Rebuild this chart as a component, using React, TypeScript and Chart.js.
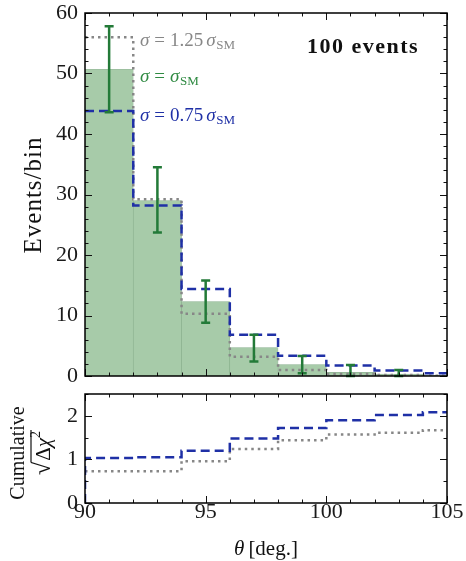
import React, { useEffect, useRef } from 'react';
import { Chart, registerables } from 'chart.js';

Chart.register(...registerables);

// ---------- data ----------
const binEdges = [90, 92, 94, 96, 98, 100, 102, 104, 106];
const binCenters = [91, 93, 95, 97, 99, 101, 103, 105];
const countsSM = [50.7, 29.0, 12.3, 4.7, 1.9, 0.6, 0.3, 0.1];
const counts075 = [43.8, 28.2, 14.4, 6.8, 3.35, 1.75, 0.9, 0.45];
const counts125 = [56.0, 29.2, 10.3, 3.2, 1.0, 0.35, 0.15, 0.05];
const errCenters = [91, 93, 95, 97, 99, 101, 103];
const errLow = [43.6, 23.7, 8.8, 2.4, 0.45, 0.0, 0.0];
const errHigh = [57.8, 34.5, 15.8, 6.8, 3.3, 1.8, 1.0];
const cum075 = [1.03, 1.05, 1.2, 1.48, 1.72, 1.9, 2.02, 2.08];
const cum125 = [0.73, 0.73, 0.96, 1.24, 1.44, 1.57, 1.61, 1.67];
const xTickValues = [90, 95, 100, 105];
const topYTicks = [0, 10, 20, 30, 40, 50, 60];
const bottomYTicks = [0, 1, 2];

// ---------- styles ----------
const FONT = '"Liberation Serif", "DejaVu Serif", serif';
const GREEN_FILL = '#a7cba9';
const GREEN_EDGE = 'rgba(100,150,105,0.7)';
const GREEN_ERR = '#237a38';
const GREEN_TXT = '#2f8a42';
const BLUE = '#1f30a6';
const GRAY = '#878787';

function stepPoints(vals: number[], startZero = false) {
  const pts: { x: number; y: number }[] = [];
  if (startZero) pts.push({ x: binEdges[0], y: 0 });
  binEdges.forEach((e, i) => pts.push({ x: e, y: vals[Math.min(i, vals.length - 1)] }));
  return pts;
}

type Piece = { t: string; f: string; dy?: number; gap?: number };

function richWidth(ctx: CanvasRenderingContext2D, pieces: Piece[]) {
  let w = 0;
  for (const p of pieces) {
    ctx.font = p.f;
    w += ctx.measureText(p.t).width + (p.gap || 0);
  }
  return w;
}

function drawRich(ctx: CanvasRenderingContext2D, x: number, y: number, pieces: Piece[], color: string, align: 'left' | 'center' = 'left') {
  ctx.save();
  ctx.fillStyle = color;
  ctx.textBaseline = 'alphabetic';
  ctx.textAlign = 'left';
  const total = richWidth(ctx, pieces);
  let cx = align === 'center' ? x - total / 2 : x;
  const pos: number[] = [];
  for (const p of pieces) {
    ctx.font = p.f;
    pos.push(cx);
    ctx.fillText(p.t, cx, y + (p.dy || 0));
    cx += ctx.measureText(p.t).width + (p.gap || 0);
  }
  ctx.restore();
  return { start: align === 'center' ? x - total / 2 : x, pos, end: cx };
}

function makeFramePlugin(xMinor: number, xMajor: number, yMinor: number, yMajor: number) {
  return {
    id: 'frameTicks',
    afterDraw(chart: any) {
      const { ctx, chartArea: a } = chart;
      const xs = chart.scales.x;
      const ys = chart.scales.y;
      ctx.save();
      ctx.strokeStyle = '#111';
      ctx.lineWidth = 1;
      const isMajor = (v: number, m: number) => Math.abs(v / m - Math.round(v / m)) < 1e-6;
      ctx.beginPath();
      const nx = Math.round((xs.max - xs.min) / xMinor);
      for (let i = 0; i <= nx; i++) {
        const v = xs.min + i * xMinor;
        const len = isMajor(v, xMajor) ? 7 : 3.5;
        const px = Math.round(xs.getPixelForValue(v)) + 0.5;
        ctx.moveTo(px, a.bottom);
        ctx.lineTo(px, a.bottom - len);
        ctx.moveTo(px, a.top);
        ctx.lineTo(px, a.top + len);
      }
      const ny = Math.round((ys.max - ys.min) / yMinor);
      for (let i = 0; i <= ny; i++) {
        const v = ys.min + i * yMinor;
        const len = isMajor(v, yMajor) ? 7 : 3.5;
        const py = Math.round(ys.getPixelForValue(v)) + 0.5;
        ctx.moveTo(a.left, py);
        ctx.lineTo(a.left + len, py);
        ctx.moveTo(a.right, py);
        ctx.lineTo(a.right - len, py);
      }
      ctx.stroke();
      ctx.lineWidth = 1.5;
      ctx.strokeStyle = '#000';
      ctx.strokeRect(a.left, a.top, a.right - a.left, a.bottom - a.top);
      ctx.restore();
    },
  };
}

const errorBarPlugin = {
  id: 'errorBars',
  afterDatasetsDraw(chart: any) {
    const { ctx } = chart;
    const xs = chart.scales.x;
    const ys = chart.scales.y;
    ctx.save();
    ctx.strokeStyle = GREEN_ERR;
    ctx.lineWidth = 2.5;
    ctx.lineCap = 'butt';
    errCenters.forEach((c, i) => {
      const px = xs.getPixelForValue(c);
      const pl = ys.getPixelForValue(errLow[i]);
      const ph = ys.getPixelForValue(errHigh[i]);
      ctx.beginPath();
      ctx.moveTo(px, pl);
      ctx.lineTo(px, ph);
      ctx.moveTo(px - 4.5, ph);
      ctx.lineTo(px + 4.5, ph);
      ctx.moveTo(px - 4.5, pl);
      ctx.lineTo(px + 4.5, pl);
      ctx.stroke();
    });
    ctx.restore();
  },
};

const topTextPlugin = {
  id: 'topText',
  afterDraw(chart: any) {
    const { ctx } = chart;
    const it = `italic 19px ${FONT}`;
    const rm = `19px ${FONT}`;
    const sub = `13px ${FONT}`;
    drawRich(ctx, 140, 46, [
      { t: 'σ', f: it, gap: 5 },
      { t: '=', f: rm, gap: 5 },
      { t: '1.25', f: rm, gap: 3 },
      { t: 'σ', f: it, gap: 0.5 },
      { t: 'SM', f: sub, dy: 3 },
    ], GRAY);
    drawRich(ctx, 140, 82, [
      { t: 'σ', f: it, gap: 5 },
      { t: '=', f: rm, gap: 5 },
      { t: 'σ', f: it, gap: 0.5 },
      { t: 'SM', f: sub, dy: 3 },
    ], GREEN_TXT);
    drawRich(ctx, 140, 121, [
      { t: 'σ', f: it, gap: 5 },
      { t: '=', f: rm, gap: 5 },
      { t: '0.75', f: rm, gap: 3 },
      { t: 'σ', f: it, gap: 0.5 },
      { t: 'SM', f: sub, dy: 3 },
    ], BLUE);

    ctx.save();
    ctx.fillStyle = '#111';
    ctx.font = `bold 22px ${FONT}`;
    (ctx as any).letterSpacing = '1.5px';
    ctx.textAlign = 'center';
    ctx.textBaseline = 'alphabetic';
    ctx.fillText('100 events', 363, 53);
    ctx.restore();

    ctx.save();
    ctx.translate(41, 195);
    ctx.rotate(-Math.PI / 2);
    ctx.fillStyle = '#111';
    ctx.font = `25px ${FONT}`;
    (ctx as any).letterSpacing = '1px';
    ctx.textAlign = 'center';
    ctx.textBaseline = 'alphabetic';
    ctx.fillText('Events/bin', 0, 0);
    ctx.restore();
  },
};

const bottomTextPlugin = {
  id: 'bottomText',
  afterDraw(chart: any) {
    const { ctx } = chart;
    ctx.save();
    ctx.translate(24, 63);
    ctx.rotate(-Math.PI / 2);
    ctx.fillStyle = '#111';
    ctx.font = `20px ${FONT}`;
    ctx.textAlign = 'center';
    ctx.textBaseline = 'alphabetic';
    ctx.fillText('Cumulative', 0, 0);
    ctx.restore();

    ctx.save();
    ctx.translate(50, 63);
    ctx.rotate(-Math.PI / 2);
    const r = drawRich(ctx, 0, 0, [
      { t: '√', f: `24px ${FONT}`, gap: 1 },
      { t: 'Δ', f: `21px ${FONT}` },
      { t: 'χ', f: `italic 21px ${FONT}` },
      { t: '2', f: `14px ${FONT}`, dy: -10 },
    ], '#111', 'center');
    ctx.strokeStyle = '#111';
    ctx.lineWidth = 1.2;
    ctx.beginPath();
    ctx.moveTo(r.pos[1] - 1.5, -19);
    ctx.lineTo(r.end + 1, -19);
    ctx.stroke();
    ctx.restore();

    drawRich(ctx, 266, 165, [
      { t: 'θ', f: `italic 21px ${FONT}`, gap: 4 },
      { t: '[deg.]', f: `21px ${FONT}` },
    ], '#111', 'center');
  },
};

function zeroPad(s: any) {
  s.paddingTop = 0;
  s.paddingBottom = 0;
  s.paddingLeft = 0;
  s.paddingRight = 0;
}

export default function App() {
  const topRef = useRef<HTMLCanvasElement>(null);
  const botRef = useRef<HTMLCanvasElement>(null);

  useEffect(() => {
    if (!topRef.current || !botRef.current) return;
    const tickFont = { family: FONT, size: 22, lineHeight: 1 };

    const top = new Chart(topRef.current, {
      type: 'bar',
      data: {
        datasets: [
          {
            type: 'line',
            label: 'σ = 0.75 σSM',
            data: stepPoints(counts075),
            stepped: 'before',
            borderColor: BLUE,
            borderWidth: 2.5,
            borderDash: [9, 5],
            pointRadius: 0,
            fill: false,
            order: 0,
          } as any,
          {
            type: 'line',
            label: 'σ = 1.25 σSM',
            data: stepPoints(counts125),
            stepped: 'before',
            borderColor: GRAY,
            borderWidth: 2.5,
            borderDash: [2.5, 4],
            pointRadius: 0,
            fill: false,
            order: 1,
          } as any,
          {
            type: 'bar',
            label: 'σ = σSM',
            data: binCenters.map((c, i) => ({ x: c, y: countsSM[i] })),
            backgroundColor: GREEN_FILL,
            borderColor: GREEN_EDGE,
            borderWidth: 0.6,
            barPercentage: 1,
            categoryPercentage: 1,
            order: 2,
          } as any,
        ],
      },
      options: {
        responsive: false,
        animation: false,
        devicePixelRatio: 1,
        layout: { padding: { left: 0, right: 19, top: 13, bottom: 0 } },
        plugins: { legend: { display: false }, tooltip: { enabled: false } },
        scales: {
          x: {
            type: 'linear',
            min: 90,
            max: 105,
            offset: false,
            grid: { display: false, drawTicks: false },
            border: { display: false },
            ticks: { display: false },
            afterFit: (s: any) => { s.height = 14; zeroPad(s); },
          },
          y: {
            type: 'linear',
            min: 0,
            max: 60,
            grid: { display: false, drawTicks: false },
            border: { display: false },
            ticks: { stepSize: 10, padding: 7, color: '#1a1a1a', font: tickFont },
            afterBuildTicks: (s: any) => { s.ticks = topYTicks.map((v) => ({ value: v })); },
            afterFit: (s: any) => { s.width = 85; zeroPad(s); },
          },
        },
      } as any,
      plugins: [errorBarPlugin, makeFramePlugin(1, 5, 2, 10), topTextPlugin],
    });

    const bottom = new Chart(botRef.current, {
      type: 'line',
      data: {
        datasets: [
          {
            label: 'σ = 0.75 σSM',
            data: stepPoints(cum075, true),
            stepped: 'before',
            borderColor: BLUE,
            borderWidth: 2.5,
            borderDash: [9, 5],
            pointRadius: 0,
            fill: false,
            order: 0,
          } as any,
          {
            label: 'σ = 1.25 σSM',
            data: stepPoints(cum125),
            stepped: 'before',
            borderColor: GRAY,
            borderWidth: 2.5,
            borderDash: [2.5, 4],
            pointRadius: 0,
            fill: false,
            order: 1,
          } as any,
        ],
      },
      options: {
        responsive: false,
        animation: false,
        devicePixelRatio: 1,
        layout: { padding: { left: 0, right: 19, top: 4, bottom: 0 } },
        plugins: { legend: { display: false }, tooltip: { enabled: false } },
        scales: {
          x: {
            type: 'linear',
            min: 90,
            max: 105,
            offset: false,
            grid: { display: false, drawTicks: false },
            border: { display: false },
            ticks: { stepSize: 5, padding: -2, color: '#1a1a1a', font: tickFont, maxRotation: 0, autoSkip: false },
            afterBuildTicks: (s: any) => { s.ticks = xTickValues.map((v) => ({ value: v })); },
            afterFit: (s: any) => { s.height = 58; zeroPad(s); },
          },
          y: {
            type: 'linear',
            min: 0,
            max: 2.5,
            grid: { display: false, drawTicks: false },
            border: { display: false },
            ticks: { stepSize: 1, padding: 7, color: '#1a1a1a', font: tickFont },
            afterBuildTicks: (s: any) => { s.ticks = bottomYTicks.map((v) => ({ value: v })); },
            afterFit: (s: any) => { s.width = 85; zeroPad(s); },
          },
        },
      } as any,
      plugins: [makeFramePlugin(1, 5, 0.5, 1), bottomTextPlugin],
    });

    return () => {
      top.destroy();
      bottom.destroy();
    };
  }, []);

  return (
    <div style={{ position: 'fixed', left: 0, top: 0, width: 466, height: 561, background: '#fff' }}>
      <canvas ref={topRef} width={466} height={390} style={{ position: 'absolute', left: 0, top: 0, width: 466, height: 390 }} />
      <canvas ref={botRef} width={466} height={171} style={{ position: 'absolute', left: 0, top: 390, width: 466, height: 171 }} />
    </div>
  );
}
